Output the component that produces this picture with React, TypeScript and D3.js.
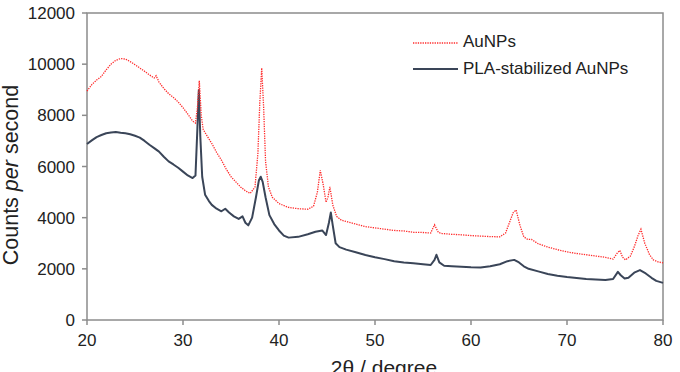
import React from "react";
import * as d3 from "d3";

const auX = [20, 20.5, 21, 21.5, 22, 22.5, 23, 23.5, 24, 24.5, 25, 25.5, 26, 26.5, 27, 27.2, 27.5, 28, 28.5, 29, 29.5, 30, 30.5, 31, 31.3, 31.5, 31.7, 31.9, 32.1, 32.5, 33, 33.5, 34, 34.5, 35, 35.5, 36, 36.5, 37, 37.5, 37.8, 38.0, 38.2, 38.4, 38.6, 38.9, 39.3, 40, 41, 42, 43, 43.6, 44.0, 44.3, 44.6, 44.9, 45.1, 45.3, 45.6, 46, 46.5, 47, 48, 49, 50, 51, 52, 53, 54, 55, 55.8, 56.2, 56.6, 57, 58, 59, 60, 61, 62, 63, 63.6, 64.0, 64.4, 64.7, 65.1, 65.5, 65.9, 66.3, 67, 68, 69, 70, 71, 72, 73, 74, 74.8, 75.2, 75.5, 75.8, 76.1, 76.6, 77.0, 77.4, 77.7, 78.1, 78.6, 79, 79.5, 80];
const auY = [8950, 9200, 9380, 9520, 9780, 10000, 10150, 10220, 10200, 10100, 9980, 9850, 9720, 9580, 9460, 9550, 9300, 9050, 8850, 8700, 8520, 8300, 8050, 7780, 7700, 8300, 9350, 8000, 7450, 7200, 6900, 6550, 6250, 5900, 5600, 5400, 5200, 5050, 4950, 5200, 6500, 8500, 9850, 8300, 6200, 5200, 4800, 4550, 4400, 4350, 4330, 4450, 5000, 5850, 5300, 4600, 4800, 5200, 4500, 4050, 3900, 3850, 3750, 3650, 3600, 3550, 3500, 3480, 3430, 3420, 3400, 3720, 3420, 3380, 3350, 3330, 3300, 3280, 3260, 3250, 3400, 3800, 4200, 4300, 3700, 3250, 3150, 3150, 2980, 2850, 2750, 2660, 2600, 2550, 2500, 2450, 2380, 2600, 2720, 2450, 2350, 2500, 2850, 3300, 3550, 3000, 2550, 2350, 2270, 2230];

const plaX = [20, 20.5, 21, 21.5, 22, 22.5, 23, 23.5, 24, 24.5, 25, 25.5, 26, 26.5, 27, 27.5, 28, 28.5, 29, 29.5, 30, 30.5, 31, 31.3, 31.5, 31.65, 31.8, 32.0, 32.3, 32.7, 33, 33.5, 34, 34.4, 34.8, 35.3, 35.8, 36.2, 36.5, 36.8, 37.2, 37.6, 37.9, 38.1, 38.3, 38.6, 39, 39.5, 40, 40.5, 41, 42, 43, 43.8, 44.5, 44.9, 45.2, 45.4, 45.6, 45.9, 46.3, 47, 48, 49, 50, 51, 52, 53, 54, 55, 55.8, 56.2, 56.4, 56.7, 57.2, 58, 59, 60, 61, 62, 63, 63.8, 64.5, 65, 65.5, 66, 67, 68, 69, 70, 71, 72, 73, 74, 74.8, 75.3, 75.6, 76.0, 76.4, 77.0, 77.6, 78.2, 78.8, 79.3, 80];
const plaY = [6880, 7020, 7150, 7230, 7300, 7330, 7350, 7320, 7300, 7260, 7200, 7130, 7000, 6850, 6720, 6580, 6380, 6200, 6080, 5950, 5800, 5650, 5550, 5650, 7500, 9000, 7200, 5600, 4900, 4650, 4500, 4350, 4250, 4350, 4200, 4050, 3950, 4050, 3800, 3700, 4000, 4800, 5450, 5600, 5400, 4800, 4100, 3750, 3500, 3300, 3220, 3250, 3350, 3450, 3500, 3320, 3800, 4200, 3700, 3000, 2850, 2750, 2650, 2540, 2450, 2380, 2300, 2250, 2220, 2180, 2150, 2350, 2550, 2250, 2120, 2100, 2080, 2060, 2050, 2100, 2180, 2300, 2350, 2250, 2100, 2000, 1900, 1800, 1730, 1680, 1640, 1600, 1580, 1560, 1600, 1880, 1750, 1620, 1650, 1850, 1950, 1820, 1650, 1530, 1450];

const xTicks = [20, 30, 40, 50, 60, 70, 80];
const yTicks = [0, 2000, 4000, 6000, 8000, 10000, 12000];
const seriesNames = ["AuNPs", "PLA-stabilized AuNPs"];

const W = 680, H = 372;
const L = 87, R = 663, T = 13, B = 320;
const FONT = "'Liberation Sans', Arial, Helvetica, sans-serif";
const AXIS = "#8c8c8c";
const RED = "#ff2b2b";
const DARK = "#3a4558";

export default function App() {
  const x = d3.scaleLinear().domain([20, 80]).range([L, R]);
  const y = d3.scaleLinear().domain([0, 12000]).range([B, T]);
  const line = d3.line<[number, number]>().x((d) => x(d[0])).y((d) => y(d[1]));
  const au = line(auX.map((v, i) => [v, auY[i]] as [number, number])) || "";
  const pla = line(plaX.map((v, i) => [v, plaY[i]] as [number, number])) || "";

  return (
    <svg width={W} height={H} style={{ position: "absolute", left: 0, top: 0, background: "#fff" }} fontFamily={FONT}>
      <rect x={0} y={0} width={W} height={H} fill="#fff" />
      <rect x={L} y={T} width={R - L} height={B - T} fill="none" stroke={AXIS} strokeWidth={1.5} />
      {yTicks.map((t) => (
        <g key={"y" + t}>
          <line x1={L - 5} x2={L} y1={y(t)} y2={y(t)} stroke={AXIS} strokeWidth={1.5} />
          <text x={75} y={y(t)} dy="0.36em" textAnchor="end" fontSize={17} fill="#222">{t}</text>
        </g>
      ))}
      {xTicks.map((t) => (
        <g key={"x" + t}>
          <line x1={x(t)} x2={x(t)} y1={B} y2={B + 5} stroke={AXIS} strokeWidth={1.5} />
          <text x={x(t)} y={346} textAnchor="middle" fontSize={17} fill="#222">{t}</text>
        </g>
      ))}
      <path d={pla} fill="none" stroke={DARK} strokeWidth={2} strokeLinejoin="round" />
      <path d={au} fill="none" stroke={RED} strokeWidth={1.3} strokeDasharray="1.3 1.1" />
      <line x1={413} x2={458} y1={43} y2={43} stroke={RED} strokeWidth={1.3} strokeDasharray="1.3 1.1" />
      <text x={463} y={47} fontSize={17} fill="#222">{seriesNames[0]}</text>
      <line x1={413} x2={458} y1={69} y2={69} stroke={DARK} strokeWidth={2} />
      <text x={463} y={74} fontSize={17} fill="#222">{seriesNames[1]}</text>
      <text x={384} y={375} textAnchor="middle" fontSize={21} fill="#222">2θ / degree</text>
      <text transform="translate(18,175) rotate(-90)" textAnchor="middle" fontSize={21.5} fill="#222">
        Counts <tspan fontStyle="italic">per</tspan> second
      </text>
    </svg>
  );
}
